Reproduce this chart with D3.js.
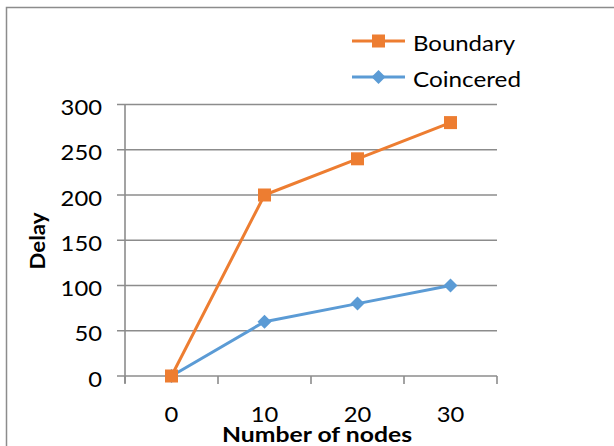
<!DOCTYPE html>
<html><head><meta charset="utf-8">
<script src="https://cdn.jsdelivr.net/npm/d3@7"></script>
<style>body{margin:0;background:#fff;}svg{display:block;font-family:Lato,"Open Sans",sans-serif;}</style>
</head><body>
<svg id="c" width="614" height="446"></svg>
<script>
const categories = ["0", "10", "20", "30"];
const boundary = [0, 200, 240, 280];
const coincered = [0, 60, 80, 100];
const yTicks = [0, 50, 100, 150, 200, 250, 300];
const seriesNames = ["Boundary", "Coincered"];
const colors = ["#ED7D31", "#5B9BD5"];

const svg = d3.select("#c");
// chart frame
svg.append("rect").attr("x", 6.5).attr("y", 7.5).attr("width", 620).attr("height", 460)
  .attr("fill", "#fff").attr("stroke", "#8c8c8c").attr("stroke-width", 1.5);

const pLeft = 125, pRight = 497, pTop = 104.5, pBottom = 376;
const x = d3.scaleBand().domain(categories).range([pLeft, pRight]);
const y = d3.scaleLinear().domain([0, 300]).range([pBottom, pTop]);

const grid = "#8c8c8c";
const digitW = 13.8;
// gridlines
svg.append("g").selectAll("line").data(yTicks).join("line")
  .attr("x1", pLeft - 8).attr("x2", pRight).attr("y1", d => y(d)).attr("y2", d => y(d))
  .attr("stroke", grid).attr("stroke-width", 1.6);
// y axis line
svg.append("line").attr("x1", pLeft).attr("x2", pLeft).attr("y1", pTop).attr("y2", pBottom + 7)
  .attr("stroke", grid).attr("stroke-width", 1.6);
// x tick marks
const xt = categories.map(c => x(c)).concat([pRight]);
svg.append("g").selectAll("line").data(xt).join("line")
  .attr("x1", d => d).attr("x2", d => d).attr("y1", pBottom).attr("y2", pBottom + 8)
  .attr("stroke", grid).attr("stroke-width", 1.6);

// y labels
svg.append("g").selectAll("text").data(yTicks).join("text")
  .attr("x", 102).attr("y", d => y(d) + 10.5).attr("text-anchor", "end")
  .attr("font-size", 21).attr("fill", "#000")
  .attr("textLength", d => String(d).length * digitW).attr("lengthAdjust", "spacingAndGlyphs")
  .text(d => d);
// x labels
svg.append("g").selectAll("text").data(categories).join("text")
  .attr("x", d => x(d) + x.bandwidth() / 2).attr("y", 422)
  .attr("text-anchor", "middle").attr("font-size", 21).attr("fill", "#000")
  .attr("textLength", d => d.length * digitW).attr("lengthAdjust", "spacingAndGlyphs")
  .text(d => d);

// axis titles
svg.append("text").attr("x", 317).attr("y", 441.5).attr("text-anchor", "middle")
  .attr("font-size", 21).attr("font-weight", "bold")
  .attr("textLength", 190).attr("lengthAdjust", "spacingAndGlyphs").text("Number of nodes");
svg.append("text").attr("transform", "translate(45,241) rotate(-90)").attr("text-anchor", "middle")
  .attr("font-size", 20).attr("font-weight", "bold")
  .attr("textLength", 57).attr("lengthAdjust", "spacingAndGlyphs").text("Delay");

const cx = c => x(c) + x.bandwidth() / 2;
const line = d3.line().x((d, i) => cx(categories[i])).y(d => y(d));

function drawMarker(g, px, py, color, shape) {
  if (shape === "square") {
    g.append("rect").attr("x", px - 6.5).attr("y", py - 6.5).attr("width", 13).attr("height", 13).attr("fill", color);
  } else {
    g.append("path").attr("d", `M${px},${py - 7}L${px + 7},${py}L${px},${py + 7}L${px - 7},${py}Z`).attr("fill", color);
  }
}
function drawSeries(vals, color, shape) {
  svg.append("path").datum(vals).attr("d", line).attr("fill", "none")
    .attr("stroke", color).attr("stroke-width", 3).attr("stroke-linejoin", "round");
  const g = svg.append("g");
  vals.forEach((v, i) => {
    drawMarker(g, cx(categories[i]), y(v), color, shape);
  });
}
drawSeries(coincered, colors[1], "diamond");
drawSeries(boundary, colors[0], "square");

// legend
const legY = [41, 77];
const legW = [102, 108];
const shapes = ["square", "diamond"];
seriesNames.forEach((n, i) => {
  const g = svg.append("g");
  g.append("line").attr("x1", 352).attr("x2", 405).attr("y1", legY[i]).attr("y2", legY[i])
    .attr("stroke", colors[i]).attr("stroke-width", 3);
  drawMarker(g, 378.5, legY[i], colors[i], shapes[i]);
  g.append("text").attr("x", 413).attr("y", legY[i] + 10)
    .attr("font-size", 21).attr("fill", "#000")
    .attr("textLength", legW[i]).attr("lengthAdjust", "spacingAndGlyphs").text(n);
});
</script>
</body></html>
